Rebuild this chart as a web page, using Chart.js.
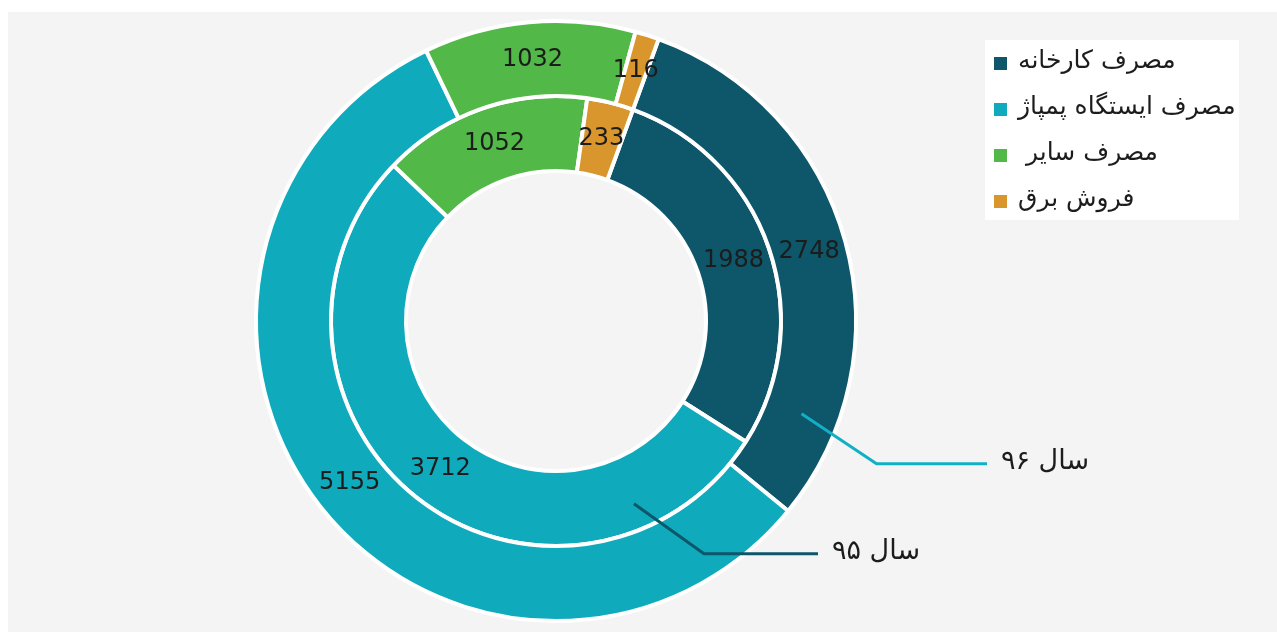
<!DOCTYPE html>
<html>
<head>
<meta charset="utf-8">
<script src="https://cdn.jsdelivr.net/npm/chart.js@4"></script>
<style>
  html, body { margin: 0; padding: 0; background: #ffffff; }
  #wrap { position: absolute; left: 0; top: 0; width: 1277px; height: 639px; }
  #panel { position: absolute; left: 8px; top: 12px; width: 1269px; height: 620px; background: #f4f4f4; }
</style>
</head>
<body>
<div id="wrap">
  <div id="panel"></div>
  <canvas id="donut" width="1277" height="639" style="position:absolute;left:0;top:0;"></canvas>
</div>
<script>
// categories (legend order = drawing order, clockwise from the top)
const categories = ['مصرف کارخانه', 'مصرف ایستگاه پمپاژ', 'مصرف سایر ', 'فروش برق'];
const colors = ['#0e566a', '#0fabbd', '#52b848', '#d8962c'];

// outer ring: year 96, inner ring: year 95
const year96 = [2748, 5155, 1032, 116];
const year95 = [1988, 3712, 1052, 233];
const ringNames = ['سال ۹۶', 'سال ۹۵'];

const FONT = '"DejaVu Sans", sans-serif';

// numbers in the middle of every slice
const sliceLabels = {
    id: 'sliceLabels',
    afterDatasetsDraw(chart) {
        const ctx = chart.ctx;
        ctx.save();
        ctx.font = '24px ' + FONT;
        ctx.fillStyle = '#1c1c1c';
        ctx.textAlign = 'center';
        ctx.textBaseline = 'middle';
        chart.data.datasets.forEach((ds, di) => {
            chart.getDatasetMeta(di).data.forEach((arc, i) => {
                const p = arc.getCenterPoint();
                ctx.fillText(String(ds.data[i]), p.x, p.y);
            });
        });
        ctx.restore();
    }
};

// "سال ۹۶" / "سال ۹۵" call-outs with bent leader lines
const ringCallouts = {
    id: 'ringCallouts',
    afterDraw(chart) {
        const ctx = chart.ctx;
        const setup = [
            { ds: 0, slice: 0, at: 0.83, depth: 0.5, dx: 75, dy: 50, lineTo: 987, color: '#11b0c4' },
            { ds: 1, slice: 1, at: 0.18, depth: 0.65, dx: 70, dy: 50, lineTo: 818, color: '#0e566a' }
        ];
        ctx.save();
        setup.forEach(s => {
            const arc = chart.getDatasetMeta(s.ds).data[s.slice];
            const a = arc.startAngle + (arc.endAngle - arc.startAngle) * s.at;
            const r = arc.innerRadius + (arc.outerRadius - arc.innerRadius) * s.depth;
            const x0 = arc.x + Math.cos(a) * r;
            const y0 = arc.y + Math.sin(a) * r;
            const x1 = x0 + s.dx;
            const y1 = y0 + s.dy;
            ctx.strokeStyle = s.color;
            ctx.lineWidth = 3;
            ctx.beginPath();
            ctx.moveTo(x0, y0);
            ctx.lineTo(x1, y1);
            ctx.lineTo(s.lineTo, y1);
            ctx.stroke();
            ctx.font = '27px ' + FONT;
            ctx.fillStyle = '#1c1c1c';
            ctx.textBaseline = 'middle';
            ctx.direction = 'rtl';
            const w = ctx.measureText(ringNames[s.ds]).width;
            ctx.textAlign = 'right';
            ctx.fillText(ringNames[s.ds], s.lineTo + 14 + w, y1 - 2);
        });
        ctx.restore();
    }
};

// legend box at the top right
const boxLegend = {
    id: 'boxLegend',
    afterDraw(chart) {
        const ctx = chart.ctx;
        ctx.save();
        ctx.fillStyle = '#ffffff';
        ctx.fillRect(985, 40, 254, 180);
        ctx.font = '25px ' + FONT;
        ctx.textBaseline = 'middle';
        ctx.direction = 'rtl';
        categories.forEach((c, i) => {
            const y = 63 + i * 46;
            ctx.fillStyle = colors[i];
            ctx.fillRect(994, y - 6, 13, 13);
            ctx.fillStyle = '#1c1c1c';
            const w = ctx.measureText(c).width;
            ctx.textAlign = 'right';
            ctx.fillText(c, 1018 + w, y - 2);
        });
        ctx.restore();
    }
};

new Chart(document.getElementById('donut'), {
    type: 'doughnut',
    data: {
        labels: categories,
        datasets: [
            { label: ringNames[0], data: year96, backgroundColor: colors, borderColor: '#ffffff', borderWidth: 4 },
            { label: ringNames[1], data: year95, backgroundColor: colors, borderColor: '#ffffff', borderWidth: 4 }
        ]
    },
    options: {
        responsive: false,
        animation: false,
        rotation: 20,
        cutout: '50%',
        layout: { padding: { left: 253, right: 418, top: 19, bottom: 16 } },
        plugins: {
            legend: { display: false },
            tooltip: { enabled: false }
        }
    },
    plugins: [sliceLabels, ringCallouts, boxLegend]
});
</script>
</body>
</html>
